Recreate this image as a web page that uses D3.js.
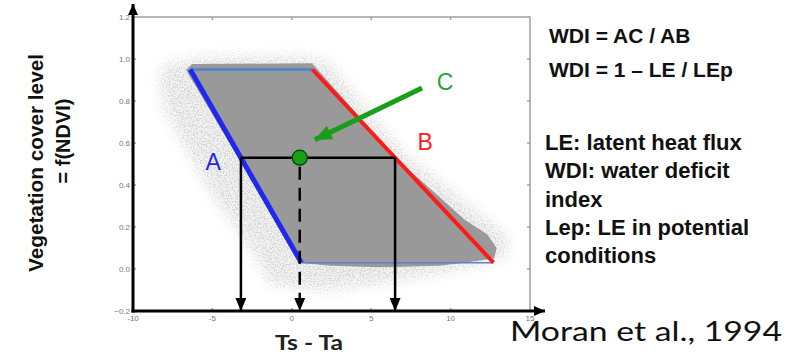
<!DOCTYPE html>
<html>
<head>
<meta charset="utf-8">
<script src="https://cdn.jsdelivr.net/npm/d3@7/dist/d3.min.js"></script>
<style>
  html, body { margin: 0; padding: 0; background: #fff; }
  svg { display: block; }
</style>
</head>
<body>
<svg id="chart" width="800" height="355"></svg>
<script>
// ---- data -------------------------------------------------------------
const xTicks = [-10, -5, 0, 5, 10, 15];
const yTicks = [-0.2, 0.0, 0.2, 0.4, 0.6, 0.8, 1.0, 1.2];

// Trapezoid edges in (Ts - Ta, vegetation cover) space
const wetEdgeX = [-6.4, 0.6];
const wetEdgeY = [0.95, 0.03];
const dryEdgeX = [1.3, 12.7];
const dryEdgeY = [0.95, 0.03];

// Dense core of the pixel cloud
const coreX = [-5.9, 1.27, 1.65, 6.69, 10.9, 12.3, 12.9, 12.75, 11.2, 9.33, 5.55, 2.4, 0.64, 0.26, -6.66, -6.28];
const coreY = [0.976, 0.98, 0.948, 0.519, 0.235, 0.165, 0.1, 0.05, 0.033, 0.016, 0.008, 0.016, 0.029, 0.067, 0.948, 0.976];

// Sparse halo of scattered pixels around the core
const haloX = [-8.11, -5.78, 1.15, 2.3, 6.9, 11.85, 13.6, 13.5, 10.59, 5.55, 1.78, -1.37, -2.32, -5.15, -7.98, -8.3];
const haloY = [0.967, 1.005, 1.01, 0.98, 0.56, 0.257, 0.148, 0.06, 0.0, -0.07, -0.1, -0.07, 0.067, 0.376, 0.757, 0.9];

// Point C and its vegetation level
const pointC = [0.5, 0.53];

// Pointer towards C
const pointerFrom = [8.2, 0.862];
const pointerTo = [1.45, 0.615];

// Letter labels
const letterText = ["A", "B", "C"];
const letterX = [-4.95, 8.4, 9.65];
const letterY = [0.51, 0.605, 0.89];

const noteTop = ["WDI = AC / AB", "WDI = 1 \u2013 LE / LEp"];
const noteBottom = ["LE: latent heat flux", "WDI: water deficit", "index", "Lep: LE in potential", "conditions"];

// ---- layout -----------------------------------------------------------
const svg = d3.select("#chart");
const x = d3.scaleLinear().domain([-10, 15]).range([133, 530]);
const y = d3.scaleLinear().domain([-0.2, 1.2]).range([311, 17]);

const defs = svg.append("defs");

// speckle texture for the scattered pixels
const f = defs.append("filter").attr("id", "speckle")
  .attr("filterUnits", "userSpaceOnUse")
  .attr("x", 0).attr("y", 0).attr("width", 800).attr("height", 355);
f.append("feGaussianBlur").attr("in", "SourceAlpha").attr("stdDeviation", 7).attr("result", "soft");
f.append("feTurbulence").attr("type", "fractalNoise").attr("baseFrequency", 0.65)
  .attr("numOctaves", 2).attr("seed", 7).attr("result", "noise");
f.append("feColorMatrix").attr("in", "noise").attr("type", "matrix")
  .attr("values", "0 0 0 0 0.68  0 0 0 0 0.68  0 0 0 0 0.68  7 0 0 0 -3.3")
  .attr("result", "dots");
f.append("feComposite").attr("in", "dots").attr("in2", "soft").attr("operator", "in");

defs.append("filter").attr("id", "haze")
  .attr("filterUnits", "userSpaceOnUse")
  .attr("x", 0).attr("y", 0).attr("width", 800).attr("height", 355)
  .append("feGaussianBlur").attr("stdDeviation", 6);

defs.append("filter").attr("id", "soften")
  .append("feGaussianBlur").attr("stdDeviation", 0.7);

function marker(id, color, len, wid) {
  defs.append("marker").attr("id", id)
    .attr("markerUnits", "userSpaceOnUse")
    .attr("viewBox", `0 0 ${len} ${wid}`)
    .attr("refX", len).attr("refY", wid / 2)
    .attr("markerWidth", len).attr("markerHeight", wid)
    .attr("orient", "auto")
    .append("path").attr("d", `M0,0 L${len},${wid / 2} L0,${wid} Z`).attr("fill", color);
}
marker("arrBlack", "#000", 13, 11);
marker("arrGreen", "#1a9e1a", 17, 15);
marker("arrAxis", "#000", 11, 10);

const line = d3.line().x(d => x(d[0])).y(d => y(d[1]));
const zip = (a, b) => a.map((v, i) => [v, b[i]]);

// ---- frame ------------------------------------------------------------
const frame = svg.append("g").attr("stroke", "#a0a0a0").attr("stroke-width", 1.5).attr("fill", "none");
frame.append("path").attr("d", line([[-10, 1.2], [15, 1.2], [15, -0.2]]));
// inner tick marks
xTicks.slice(1, -1).forEach(t => {
  frame.append("line").attr("x1", x(t)).attr("x2", x(t)).attr("y1", y(1.2)).attr("y2", y(1.2) + 3);
  frame.append("line").attr("x1", x(t)).attr("x2", x(t)).attr("y1", y(-0.2)).attr("y2", y(-0.2) - 3);
});
yTicks.slice(1, -1).forEach(t => {
  frame.append("line").attr("x1", x(15)).attr("x2", x(15) - 3).attr("y1", y(t)).attr("y2", y(t));
  frame.append("line").attr("x1", x(-10)).attr("x2", x(-10) + 3).attr("y1", y(t)).attr("y2", y(t));
});

// ---- pixel cloud ------------------------------------------------------
const haloPath = line(zip(haloX, haloY)) + "Z";
svg.append("path").attr("d", haloPath)
  .attr("fill", "#d6d6d6").attr("opacity", 0.3).attr("filter", "url(#haze)");
svg.append("path").attr("d", haloPath)
  .attr("fill", "#000").attr("filter", "url(#speckle)");
svg.append("path").attr("d", line(zip(coreX, coreY)) + "Z")
  .attr("fill", "#999").attr("filter", "url(#soften)");

// ---- trapezoid edges --------------------------------------------------
const steel = "#5585c8";
svg.append("path").attr("d", line([[wetEdgeX[0], wetEdgeY[0]], [dryEdgeX[0], dryEdgeY[0]]]))
  .attr("stroke", steel).attr("stroke-width", 3).attr("fill", "none");
svg.append("path").attr("d", line([[wetEdgeX[1], wetEdgeY[1]], [dryEdgeX[1], dryEdgeY[1]]]))
  .attr("stroke", steel).attr("stroke-width", 1.5).attr("fill", "none");
svg.append("path").attr("d", line(zip(wetEdgeX, wetEdgeY)))
  .attr("stroke", "#1e28f0").attr("stroke-width", 5).attr("fill", "none");
svg.append("path").attr("d", line(zip(dryEdgeX, dryEdgeY)))
  .attr("stroke", "#ff1a1a").attr("stroke-width", 4).attr("fill", "none");

// ---- A-C-B level and projections ---------------------------------------
const along = (ex, ey, v) => ex[0] + (ex[1] - ex[0]) * (ey[0] - v) / (ey[0] - ey[1]);
const ax = along(wetEdgeX, wetEdgeY, pointC[1]);
const bx = along(dryEdgeX, dryEdgeY, pointC[1]);

svg.append("path").attr("d", line([[ax, pointC[1]], [bx, pointC[1]]]))
  .attr("stroke", "#000").attr("stroke-width", 2.5).attr("fill", "none");
[ax, bx].forEach(v => {
  svg.append("line").attr("x1", x(v)).attr("x2", x(v))
    .attr("y1", y(pointC[1])).attr("y2", y(-0.2))
    .attr("stroke", "#000").attr("stroke-width", 2.5).attr("marker-end", "url(#arrBlack)");
});
svg.append("line").attr("x1", x(pointC[0])).attr("x2", x(pointC[0]))
  .attr("y1", y(pointC[1]) + 9).attr("y2", y(-0.2))
  .attr("stroke", "#000").attr("stroke-width", 2.5).attr("stroke-dasharray", "13,8")
  .attr("marker-end", "url(#arrBlack)");

// ---- axes -------------------------------------------------------------
svg.append("line").attr("x1", x(-10)).attr("x2", x(-10)).attr("y1", y(-0.2) + 1.5).attr("y2", 4)
  .attr("stroke", "#000").attr("stroke-width", 3).attr("marker-end", "url(#arrAxis)");
svg.append("line").attr("x1", x(-10) - 1.5).attr("x2", 545).attr("y1", y(-0.2)).attr("y2", y(-0.2))
  .attr("stroke", "#000").attr("stroke-width", 3).attr("marker-end", "url(#arrAxis)");

const tickStyle = s => s.attr("font-family", "Liberation Sans, Arial, sans-serif")
  .attr("font-size", 8).attr("fill", "#777");
svg.append("g").selectAll("text").data(yTicks).join("text")
  .attr("x", x(-10) - 3).attr("y", d => y(d) + 3).attr("text-anchor", "end")
  .text(d3.format(".1f")).call(tickStyle);
svg.append("g").selectAll("text").data(xTicks).join("text")
  .attr("x", d => x(d)).attr("y", y(-0.2) + 9.5).attr("text-anchor", "middle")
  .text(d => d).call(tickStyle);

// ---- point C and pointer ----------------------------------------------
svg.append("path").attr("d", line([pointerFrom, pointerTo]))
  .attr("stroke", "#1a9e1a").attr("stroke-width", 5).attr("fill", "none")
  .attr("marker-end", "url(#arrGreen)");
svg.append("circle").attr("cx", x(pointC[0])).attr("cy", y(pointC[1])).attr("r", 7.5)
  .attr("fill", "#16a016").attr("stroke", "#0b3a0b").attr("stroke-width", 1.2);

const letterColor = ["#1e28f0", "#ff1a1a", "#22a83a"];
svg.append("g").selectAll("text").data(letterText).join("text")
  .attr("x", (d, i) => x(letterX[i])).attr("y", (d, i) => y(letterY[i]))
  .attr("dy", "0.36em").attr("text-anchor", "middle")
  .attr("font-family", "Liberation Sans, Arial, sans-serif").attr("font-size", 23)
  .attr("fill", (d, i) => letterColor[i]).text(d => d);

// ---- axis titles --------------------------------------------------------
svg.append("text").attr("transform", "translate(43,163) rotate(-90)")
  .attr("text-anchor", "middle").attr("font-family", "Liberation Sans, Arial, sans-serif")
  .attr("font-weight", "bold").attr("font-size", 20).attr("fill", "#111")
  .attr("textLength", 218).attr("lengthAdjust", "spacingAndGlyphs")
  .text("Vegetation cover level");
svg.append("text").attr("transform", "translate(70,141) rotate(-90)")
  .attr("text-anchor", "middle").attr("font-family", "Liberation Sans, Arial, sans-serif")
  .attr("font-weight", "bold").attr("font-size", 20).attr("fill", "#111")
  .text("= f(NDVI)");
svg.append("text").attr("x", 275).attr("y", 350)
  .attr("font-family", "Lato, sans-serif").attr("font-weight", "bold")
  .attr("font-size", 21).attr("fill", "#222")
  .attr("textLength", 68).attr("lengthAdjust", "spacingAndGlyphs").text("Ts - Ta");

// ---- notes ------------------------------------------------------------
svg.append("g").selectAll("text").data(noteTop).join("text")
  .attr("x", 549).attr("y", (d, i) => 43 + i * 34)
  .attr("font-family", "Liberation Sans, Arial, sans-serif").attr("font-weight", "bold")
  .attr("font-size", 21).attr("fill", "#111").text(d => d);
svg.append("g").selectAll("text").data(noteBottom).join("text")
  .attr("x", 545).attr("y", (d, i) => 150 + i * 28.3)
  .attr("font-family", "Liberation Sans, Arial, sans-serif").attr("font-weight", "bold")
  .attr("font-size", 22).attr("fill", "#111").text(d => d);

svg.append("text").attr("x", 510).attr("y", 341)
  .attr("font-family", "Lato, sans-serif").attr("font-size", 26).attr("fill", "#111")
  .attr("textLength", 272).attr("lengthAdjust", "spacingAndGlyphs")
  .text("Moran et al., 1994");
</script>
</body>
</html>
